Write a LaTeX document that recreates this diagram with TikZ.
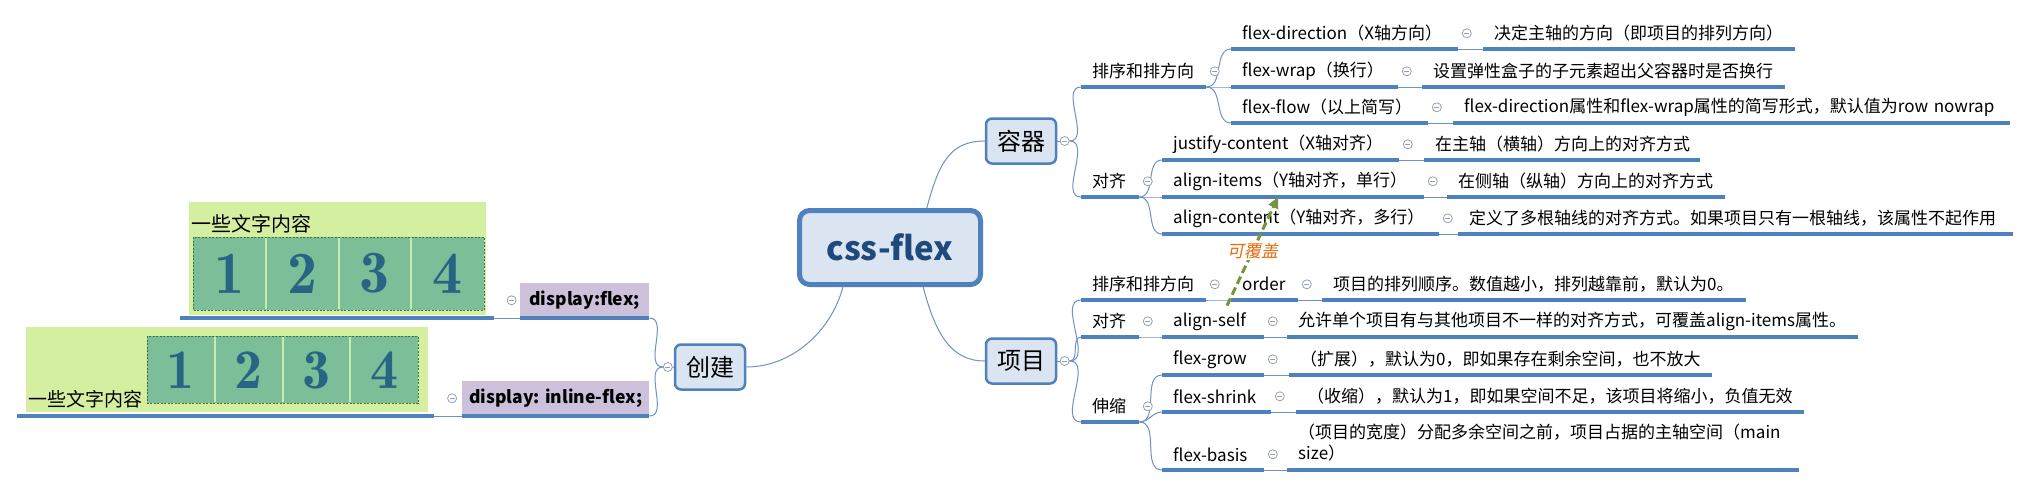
\documentclass[tikz,border=0pt]{standalone}
\usepackage{fontspec}
\setmainfont{Noto Sans CJK SC}
\newfontfamily\digitfont{lmromandemi10-regular.otf}
\newfontfamily\slantfont[FakeSlant=0.2]{Noto Sans CJK SC}
\usetikzlibrary{positioning}
\usetikzlibrary{arrows.meta}
\definecolor{ublue}{RGB}{79,129,189}
\definecolor{linkblue}{RGB}{110,145,200}
\definecolor{boxblue}{RGB}{219,229,241}
\definecolor{rootblue}{RGB}{31,73,125}
\definecolor{dispurple}{RGB}{204,192,218}
\definecolor{picgreen}{RGB}{212,239,160}
\definecolor{cellgreen}{RGB}{124,190,152}
\definecolor{cellline}{RGB}{200,236,170}
\definecolor{digitblue}{RGB}{42,100,132}
\definecolor{dashgreen}{RGB}{70,110,70}
\definecolor{foldgray}{RGB}{150,160,175}
\definecolor{relgreen}{RGB}{119,147,60}
\definecolor{relorange}{RGB}{228,108,10}
\hyphenpenalty=10000
\exhyphenpenalty=10000

\begin{document}
\begin{tikzpicture}[x=1pt,y=-1pt, font=\fontsize{17}{21}\selectfont,
    topic/.style={anchor=south west, inner xsep=11pt, inner ysep=0pt, minimum height=31pt, text width=#1, align=left},
    disp/.style={anchor=south west, fill=dispurple, inner sep=0pt, minimum height=35pt, font=\bfseries\fontsize{17.5}{21}\selectfont},
    main/.style={draw=ublue, line width=2.5pt, fill=boxblue, rounded corners=6pt, minimum width=70pt, minimum height=45pt, inner sep=0pt, font=\fontsize{24}{28}\selectfont},
    root/.style={draw=ublue, line width=5pt, fill=boxblue, rounded corners=10pt, minimum width=181pt, minimum height=74pt, text=rootblue, font=\bfseries\fontsize{33}{36}\selectfont},
    fold/.style={circle, draw=foldgray, line width=0.8pt, fill=white, minimum size=9pt, inner sep=0pt,
      path picture={\draw[foldgray, line width=0.8pt] ([xshift=-2.5pt]path picture bounding box.center) -- ([xshift=2.5pt]path picture bounding box.center);}},
    uline/.style={draw=ublue, line width=3.5pt},
    link/.style={draw=linkblue, line width=1pt},
    digit/.style={inner sep=0pt, text=digitblue},
    rel/.style={draw=relgreen, line width=3pt, dash pattern=on 8pt off 4pt, -{Triangle[length=11pt,width=10pt]}}]

      \fill[white] (0,0) rectangle (2032,488);
      \useasboundingbox (0,0) rectangle (2032,488);

      \fill[picgreen] (189,202) rectangle (486,315);
      \node[anchor=west, inner sep=0pt, font=\fontsize{20}{24}\selectfont] (txt1) at (191,224) {一些文字内容};
      \foreach \i in {1,...,4} {
        \fill[cellgreen] (120.25+72.75*\i,237) rectangle ++(72.75,73);
        \node[digit, font=\digitfont\fontsize{60}{60}\selectfont] at (156.6+72.75*\i,273.5) {\i};
      }
      \foreach \i in {1,2,3} \draw[cellline, line width=2pt] (193+72.75*\i,238) -- ++(0,71);
      \draw[dashgreen, line width=0.7pt, dash pattern=on 2pt off 1.5pt] (193,237) rectangle (484,310);

      \fill[picgreen] (26,327) rectangle (428,412);
      \node[anchor=west, inner sep=0pt, font=\fontsize{19}{23}\selectfont] (txt2) at (28,399) {一些文字内容};
      \foreach \i in {1,...,4} {
        \fill[cellgreen] (79.25+67.75*\i,336) rectangle ++(67.75,67);
        \node[digit, font=\digitfont\fontsize{56}{56}\selectfont] at (113.1+67.75*\i,370) {\i};
      }
      \foreach \i in {1,2,3} \draw[cellline, line width=2pt] (147+67.75*\i,337) -- ++(0,65);
      \draw[dashgreen, line width=0.7pt, dash pattern=on 2pt off 1.5pt] (147,336) rectangle (418,403);

      \node[anchor=south west, inner sep=0pt, minimum width=314pt, minimum height=116pt] (fpic) at (180,318) {};
      \node[anchor=south west, inner sep=0pt, minimum width=417pt, minimum height=94pt] (ipic) at (17,416) {};
      \node[disp, minimum width=129pt] (df) at (520,318) {display:flex;};
      \node[disp, minimum width=187pt] (dif) at (462,416) {display: inline-flex;};
      \node[fold, left=3.5pt of df] (dfc) {};
      \node[fold, left=5pt of dif] (difc) {};

      \node[root] (css) at (890,247.5) {css-flex};
      \node[main] (cj) at (710,367) {创建};
      \node[main] (rq) at (1021,141) {容器};
      \node[main] (xm) at (1021,361) {项目};
      \node[fold, left=1pt of cj] (cjc) {};
      \node[fold, right=2.5pt of rq] (rqc) {};
      \node[fold, right=2.5pt of xm] (xmc) {};

      \node[topic=103pt] (p1) at (1081,87) {排序和排方向};
      \node[topic=36pt] (p2) at (1081,197) {对齐};
      \node[topic=205pt] (fd) at (1231,49) {flex-direction（X轴方向）};
      \node[topic=290pt] (fdd) at (1483,49) {决定主轴的方向（即项目的排列方向）};
      \node[topic=145pt] (fw) at (1231,87) {flex-wrap（换行）};
      \node[topic=341pt] (fwd) at (1422,87) {设置弹性盒子的子元素超出父容器时是否换行};
      \node[topic=175pt] (ff) at (1231,123) {flex-flow（以上简写）};
      \node[topic=535pt] (ffd) at (1453,123) {flex-direction属性和flex-wrap属性的简写形式，默认值为row~nowrap};
      \node[topic=215pt] (jc) at (1162,160) {justify-content（X轴对齐）};
      \node[topic=254pt] (jcd) at (1424,160) {在主轴（横轴）方向上的对齐方式};
      \node[topic=240pt] (ai) at (1162,197) {align-items（Y轴对齐，单行）};
      \node[topic=256pt] (aid) at (1447,197) {在侧轴（纵轴）方向上的对齐方式};
      \node[topic=255pt] (ac) at (1162,234) {align-content（Y轴对齐，多行）};
      \node[topic=533pt] (acd) at (1458,234) {定义了多根轴线的对齐方式。如果项目只有一根轴线，该属性不起作用};

      \node[topic=103pt] (q1) at (1081,300) {排序和排方向};
      \node[topic=36pt] (q2) at (1081,337) {对齐};
      \node[topic=36pt] (q3) at (1081,422) {伸缩};
      \node[topic=45pt] (od) at (1231,300) {order};
      \node[topic=402pt] (odd) at (1322,300) {项目的排列顺序。数值越小，排列越靠前，默认为0。};
      \node[topic=80pt] (as) at (1162,337) {align-self};
      \node[topic=549pt] (asd) at (1287,337) {允许单个项目有与其他项目不一样的对齐方式，可覆盖align-items属性。};
      \node[topic=80pt] (fg) at (1162,375) {flex-grow};
      \node[topic=401pt] (fgd) at (1289,375) {（扩展），默认为0，即如果存在剩余空间，也不放大};
      \node[topic=87pt] (fs) at (1162,412) {flex-shrink};
      \node[topic=486pt] (fsd) at (1296,412) {（收缩），默认为1，即如果空间不足，该项目将缩小，负值无效};
      \node[topic=80pt] (fb) at (1162,470) {flex-basis};
      \node[topic=490pt, minimum height=54pt] (fbd) at (1287,470) {（项目的宽度）分配多余空间之前，项目占据的主轴空间（main\\size）};

      \draw[link] (css.220) .. controls +(-12,45) and +(45,0) .. (cj.east);
      \draw[link] (css.47) .. controls +(12,-45) and +(-35,0) .. (rq.west);
      \draw[link] (css.310) .. controls +(12,45) and +(-35,0) .. (xm.west);
      \draw[link] (rq.east) -- (rqc.west);
      \draw[link] (xm.east) -- (xmc.west);
      \draw[link] (cj.west) -- (cjc.east);
      \draw[link] (cjc.west) to[out=180,in=0] (df.south east);
      \draw[link] (cjc.west) to[out=180,in=0] (dif.south east);
      \draw[link] (df.south west) -- (fpic.south east);
      \draw[link] (dif.south west) -- (ipic.south east);
      \foreach \a/\b in {rqc/p1,rqc/p2,xmc/q1,xmc/q2,xmc/q3}
        \draw[link] (\a.east) to[out=0,in=180] (\b.south west);
      \foreach \a/\b in {p1/fd,p1/fw,p1/ff,p2/jc,p2/ai,p2/ac,q1/od,q2/as,q3/fg,q3/fs,q3/fb}
        \draw[link] (\a.south east) to[out=0,in=180] (\b.south west);
      \foreach \a/\b in {fd/fdd,fw/fwd,ff/ffd,jc/jcd,ai/aid,ac/acd,od/odd,as/asd,fg/fgd,fs/fsd,fb/fbd}
        \draw[link] (\a.south east) -- (\b.south west);

      \foreach \n in {fpic,ipic,df,dif,p1,p2,fd,fdd,fw,fwd,ff,ffd,jc,jcd,ai,aid,ac,acd,q1,q2,q3,od,odd,as,asd,fg,fgd,fs,fsd,fb,fbd}
        \draw[uline] (\n.south west) -- (\n.south east);
      \foreach \n in {p1,p2,fd,fw,ff,jc,ai,ac,q1,q2,q3,od,as,fg,fs,fb}
        \node[fold, right=3.5pt of \n] (\n-c) {};

      \draw[rel] ([xshift=65pt]as.north west) -- node[fill=white, inner sep=1pt, text=relorange, font=\slantfont\fontsize{17}{21}\selectfont] (cover) {可覆盖} ([xshift=116pt]ai.south west);
    \end{tikzpicture}
\end{document}
